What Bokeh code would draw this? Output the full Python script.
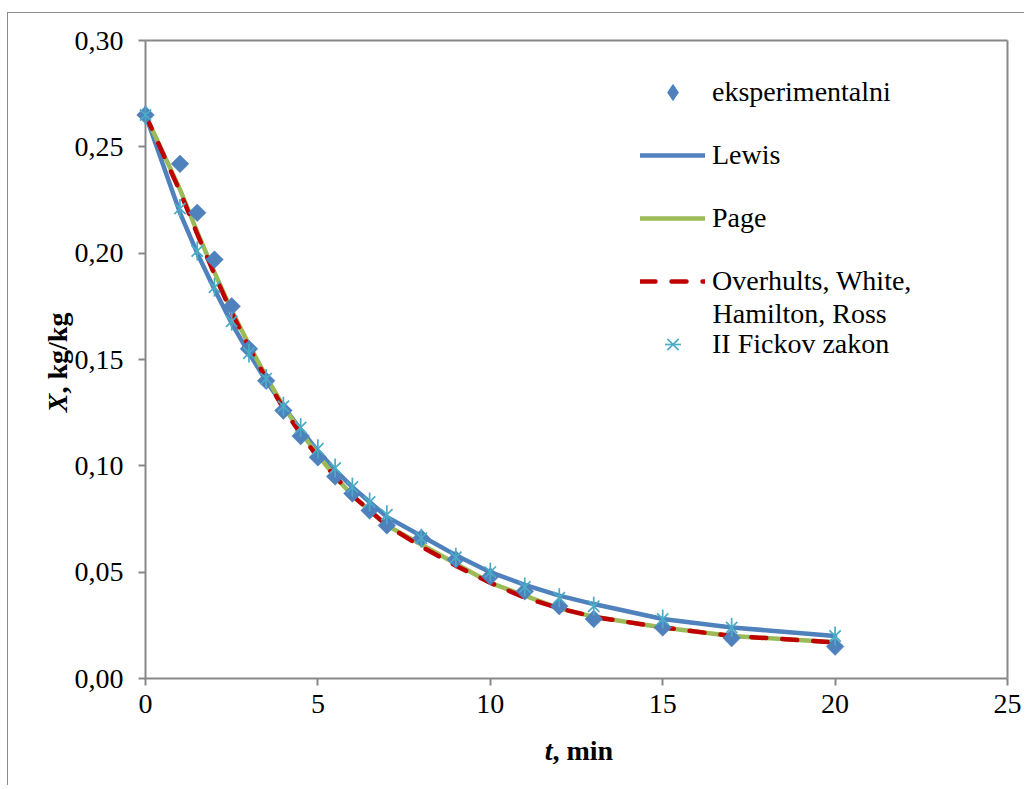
import math
from bokeh.plotting import figure
from bokeh.models import FixedTicker, Legend, LegendItem, Label, Range1d, LinearAxis
from bokeh.embed import file_html
from bokeh.resources import INLINE

# ---------------- data ----------------
t_min = [0, 1, 1.5, 2, 2.5, 3, 3.5, 4, 4.5, 5, 5.5, 6, 6.5, 7, 8, 9, 10, 11, 12, 13, 15, 17, 20]
x_exp = [0.265, 0.242, 0.219, 0.197, 0.175, 0.155, 0.140, 0.126, 0.114, 0.104, 0.095, 0.087,
         0.079, 0.072, 0.066, 0.056, 0.048, 0.041, 0.034, 0.028, 0.024, 0.019, 0.015]
x_lewis = [0.265, 0.219, 0.200, 0.183, 0.167, 0.153, 0.140, 0.128, 0.117, 0.107, 0.098, 0.090,
           0.083, 0.076, 0.067, 0.058, 0.050, 0.044, 0.039, 0.035, 0.028, 0.024, 0.020]
x_page = [0.265, 0.230, 0.210, 0.191, 0.173, 0.157, 0.142, 0.128, 0.116, 0.105, 0.095, 0.086,
          0.079, 0.072, 0.063, 0.054, 0.045, 0.039, 0.033, 0.029, 0.024, 0.020, 0.017]
x_ohhr = [0.265, 0.229, 0.209, 0.190, 0.172, 0.156, 0.141, 0.127, 0.115, 0.104, 0.095, 0.086,
          0.079, 0.072, 0.062, 0.053, 0.045, 0.038, 0.033, 0.029, 0.024, 0.020, 0.017]
x_fick = [0.265, 0.221, 0.201, 0.184, 0.168, 0.153, 0.141, 0.128, 0.118, 0.108, 0.099, 0.090,
          0.083, 0.077, 0.066, 0.057, 0.050, 0.043, 0.038, 0.034, 0.028, 0.024, 0.020]

x_ticks = [0, 5, 10, 15, 20, 25]
x_tick_labels = ["0", "5", "10", "15", "20", "25"]
y_ticks = [0.0, 0.05, 0.10, 0.15, 0.20, 0.25, 0.30]
y_tick_labels = ["0,00", "0,05", "0,10", "0,15", "0,20", "0,25", "0,30"]

legend_labels = ["eksperimentalni", "Lewis", "Page", "Overhults, White,", "II Fickov zakon"]
legend_second_line = "Hamilton, Ross"
x_title = ["t", ", min"]
y_title = ["X", ", kg/kg"]

# ---------------- layout ----------------
# The plot frame spans the whole canvas; the axes sit at fixed data locations
# so that titles outside the data area are still inside the frame.
W, H = 1024, 785
PL, PR, PT, PB = 145, 1007, 40, 678       # pixel box of the data area
X0, X1, Y0, Y1 = 0, 25, 0.0, 0.30
KX = (PR - PL) / (X1 - X0)
KY = (PB - PT) / (Y1 - Y0)
XS, XE = X0 - PL / KX, X1 + (W - PR) / KX
YS, YE = Y0 - (H - PB) / KY, Y1 + PT / KY


def px2x(px):
    return XS + px / KX


def py2y(py):
    return YE - py / KY


FONT = "Liberation Serif"
FS = "28px"
GRAY = "#878787"

p = figure(width=W, height=H, x_range=Range1d(XS, XE), y_range=Range1d(YS, YE),
           output_backend="svg", toolbar_location=None,
           min_border_left=0, min_border_right=0, min_border_top=0, min_border_bottom=0)
p.title.visible = False
p.background_fill_alpha = 0
p.border_fill_alpha = 0
p.outline_line_color = None
p.styles = {
    "background-color": "white",
    "background-image": "linear-gradient(#8c8c8c, #8c8c8c), linear-gradient(#8c8c8c, #8c8c8c)",
    "background-position": "7px 12px, 7px 12px",
    "background-size": "1px 100%, 100% 1px",
    "background-repeat": "no-repeat, no-repeat",
}
p.xgrid.visible = False
p.ygrid.visible = False

xax = p.xaxis[0]
yax = p.yaxis[0]
xax.ticker = FixedTicker(ticks=x_ticks)
xax.major_label_overrides = dict(zip(x_ticks, x_tick_labels))
yax.ticker = FixedTicker(ticks=y_ticks)
yax.major_label_overrides = dict(zip(y_ticks, y_tick_labels))
xax.fixed_location = Y0
yax.fixed_location = X0
xax.bounds = (X0, X1)
yax.bounds = (Y0, Y1)

top_ax = LinearAxis(fixed_location=Y1, bounds=(X0, X1), ticker=FixedTicker(ticks=[]))
right_ax = LinearAxis(fixed_location=X1, bounds=(Y0, Y1), ticker=FixedTicker(ticks=[]))
p.add_layout(top_ax, "above")
p.add_layout(right_ax, "right")

for ax in (xax, yax, top_ax, right_ax):
    ax.level = "underlay"
    ax.axis_line_color = GRAY
    ax.axis_line_width = 2
    ax.major_tick_line_color = GRAY
    ax.major_tick_line_width = 2
    ax.major_tick_out = 7
    ax.major_tick_in = 0
    ax.minor_tick_out = 0
    ax.minor_tick_in = 0
    ax.major_label_text_font = FONT
    ax.major_label_text_font_size = FS
    ax.major_label_text_color = "black"
yax.major_label_standoff = 15
xax.major_label_standoff = 9

# ---------------- series ----------------
BLUE, GREEN, RED, AQUA = "#4F81BD", "#9BBB59", "#C00000", "#4BACC6"
r_lewis = p.line(t_min, x_lewis, line_color=BLUE, line_width=4.5,
                 line_join="round", line_cap="round")
r_page = p.line(t_min, x_page, line_color=GREEN, line_width=4.5,
                line_join="round", line_cap="round")
r_ohhr = p.line(t_min, x_ohhr, line_color=RED, line_width=4.5,
                line_dash="15 16", line_join="round", line_cap="round")
r_exp = p.scatter(t_min, x_exp, marker="square", size=12.5, angle=math.pi / 4,
                  fill_color=BLUE, line_color=BLUE, line_width=0.5)
r_fx = p.scatter(t_min, x_fick, marker="x", size=16, line_color=AQUA, line_width=1.7)
r_fv = p.scatter(t_min, x_fick, marker="dash", size=19, angle=math.pi / 2,
                 line_color=AQUA, line_width=1.7)
# legend key for the experimental series (diamond shape; not drawn in the plot)
r_exp_key = p.scatter(t_min, x_exp, marker="diamond", fill_color=BLUE, line_color=BLUE,
                      visible=False)

legend = Legend(items=[
    LegendItem(label=legend_labels[0], renderers=[r_exp_key]),
    LegendItem(label=legend_labels[1], renderers=[r_lewis]),
    LegendItem(label=legend_labels[2], renderers=[r_page]),
    LegendItem(label=legend_labels[3], renderers=[r_ohhr]),
    LegendItem(label=legend_labels[4], renderers=[r_fx, r_fv]),
], location=(640, H - 364), glyph_width=65, glyph_height=40, label_height=30,
    label_standoff=7, spacing=23, padding=0, margin=0,
    border_line_alpha=0, background_fill_alpha=0, inactive_fill_alpha=0,
    label_text_font=FONT, label_text_font_size=FS, label_text_color="black")
p.add_layout(legend)

p.add_layout(Label(x=px2x(712), y=py2y(313), text=legend_second_line,
                   text_font=FONT, text_font_size=FS, text_color="black",
                   text_baseline="middle", text_align="left"))

# axis titles (italic symbol + bold unit)
p.add_layout(Label(x=px2x(552), y=py2y(750), text=x_title[0], text_font=FONT,
                   text_font_size=FS, text_font_style="bold italic", text_color="black",
                   text_align="right", text_baseline="middle"))
p.add_layout(Label(x=px2x(552), y=py2y(750), text=x_title[1], text_font=FONT,
                   text_font_size=FS, text_font_style="bold", text_color="black",
                   text_align="left", text_baseline="middle"))
p.add_layout(Label(x=px2x(57), y=py2y(393), text=y_title[0], text_font=FONT,
                   text_font_size=FS, text_font_style="bold italic", text_color="black",
                   angle=math.pi / 2, text_align="right", text_baseline="middle"))
p.add_layout(Label(x=px2x(57), y=py2y(393), text=y_title[1], text_font=FONT,
                   text_font_size=FS, text_font_style="bold", text_color="black",
                   angle=math.pi / 2, text_align="left", text_baseline="middle"))

open("out.html", "w").write(file_html(p, INLINE))
